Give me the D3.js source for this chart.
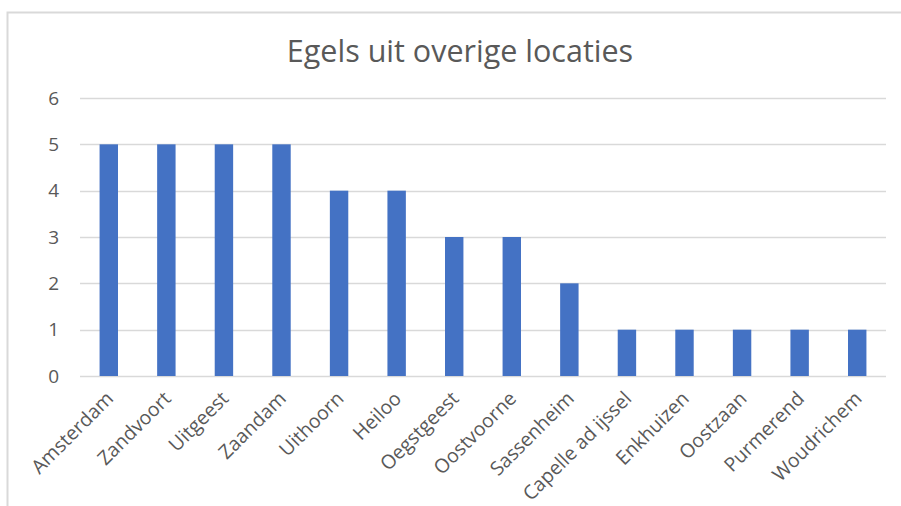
<!DOCTYPE html>
<html>
<head>
<meta charset="utf-8">
<script src="https://cdn.jsdelivr.net/npm/d3@7"></script>
<style>
  body { margin: 0; background: #fff; }
  svg { display: block; font-family: "Open Sans", "Noto Sans", sans-serif; }
</style>
</head>
<body>
<div id="chart"></div>
<script>
// chart data
const title = "Egels uit overige locaties";
const locations = ["Amsterdam", "Zandvoort", "Uitgeest", "Zaandam", "Uithoorn", "Heiloo",
  "Oegstgeest", "Oostvoorne", "Sassenheim", "Capelle ad ijssel", "Enkhuizen",
  "Oostzaan", "Purmerend", "Woudrichem"];
const counts = [5, 5, 5, 5, 4, 4, 3, 3, 2, 1, 1, 1, 1, 1];
const yTicks = [0, 1, 2, 3, 4, 5, 6];

const W = 901, H = 506;
const svg = d3.select("#chart").append("svg")
  .attr("width", W)
  .attr("height", H);

// chart frame (only top and left edges are visible in the crop)
svg.append("rect")
  .attr("x", 7.5).attr("y", 12.5)
  .attr("width", W + 20).attr("height", H + 20)
  .attr("fill", "none")
  .attr("stroke", "#d9d9d9")
  .attr("stroke-width", 2);

const x = d3.scaleBand()
  .domain(locations)
  .range([80, 886])
  .paddingInner(0.68)
  .paddingOuter(0.34);

const y = d3.scaleLinear()
  .domain([0, 6])
  .range([376, 98]);

// gridlines
svg.append("g")
  .selectAll("line")
  .data(yTicks)
  .enter()
  .append("line")
  .attr("x1", 80)
  .attr("x2", 886)
  .attr("y1", (d) => Math.round(y(d)) + 0.5)
  .attr("y2", (d) => Math.round(y(d)) + 0.5)
  .attr("stroke", "#d9d9d9")
  .attr("stroke-width", 1.5);

// y tick labels
svg.append("g")
  .selectAll("text")
  .data(yTicks)
  .enter()
  .append("text")
  .attr("x", 59)
  .attr("y", (d) => y(d))
  .attr("dy", "0.35em")
  .attr("text-anchor", "end")
  .attr("fill", "#595959")
  .attr("font-size", 19)
  .text((d) => d);

// bars
svg.append("g")
  .selectAll("rect")
  .data(locations)
  .enter()
  .append("rect")
  .attr("x", (d) => x(d))
  .attr("y", (d, i) => y(counts[i]))
  .attr("width", x.bandwidth())
  .attr("height", (d, i) => y(0) - y(counts[i]))
  .attr("fill", "#4472C4");

// category labels
svg.append("g")
  .selectAll("text")
  .data(locations)
  .enter()
  .append("text")
  .attr("transform", (d) => `translate(${x(d) + x.bandwidth() / 2 + 1},${y(0) + 19}) rotate(-45)`)
  .attr("dy", "0.35em")
  .attr("text-anchor", "end")
  .attr("fill", "#595959")
  .attr("font-size", 19.5)
  .text((d) => d);

// title
svg.append("text")
  .attr("x", 460)
  .attr("y", 62)
  .attr("text-anchor", "middle")
  .attr("fill", "#595959")
  .attr("font-size", 30.5)
  .text(title);
</script>
</body>
</html>
